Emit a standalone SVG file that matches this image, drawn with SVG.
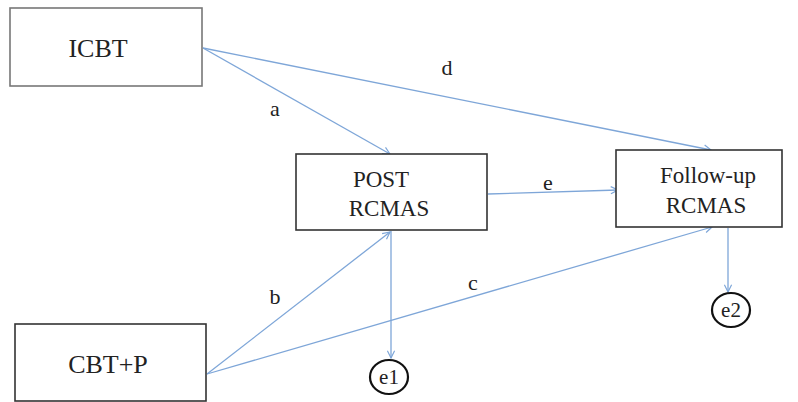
<svg xmlns="http://www.w3.org/2000/svg" width="798" height="402" viewBox="0 0 798 402">
  <style>
    .box { fill: #ffffff; stroke: #333333; stroke-width: 1.6; }
    .box.light { stroke: #777777; }
    .lbl { font-family: "Liberation Serif", "Times New Roman", serif; fill: #222222; text-anchor: middle; }
    .edge { stroke: #7ea6d8; stroke-width: 1.3; fill: none; marker-end: url(#arrow); }
    .err { fill: #ffffff; stroke: #111111; stroke-width: 2.2; }
  </style>
  <defs>
    <marker id="arrow" viewBox="0 0 10 10" refX="9" refY="5" markerWidth="9" markerHeight="9" markerUnits="userSpaceOnUse" orient="auto">
      <path d="M1,1 L9,5 L1,9" fill="none" stroke="#7ea6d8" stroke-width="1.3"/>
    </marker>
  </defs>
  <rect width="798" height="402" fill="#ffffff"/>

  <g id="connectors">
    <line class="edge" x1="203" y1="48" x2="711" y2="150"/>
    <line class="edge" x1="203" y1="48" x2="390" y2="154"/>
    <line class="edge" x1="488" y1="194" x2="618" y2="190"/>
    <line class="edge" x1="391" y1="231" x2="391" y2="358"/>
    <line class="edge" x1="207" y1="374" x2="390" y2="232"/>
    <line class="edge" x1="207" y1="374" x2="712" y2="227"/>
    <line class="edge" x1="728" y1="228" x2="728" y2="292"/>
    <text class="lbl" x="275" y="116" font-size="22">a</text>
    <text class="lbl" x="447" y="75" font-size="22">d</text>
    <text class="lbl" x="548" y="190" font-size="22">e</text>
    <text class="lbl" x="275" y="304" font-size="22">b</text>
    <text class="lbl" x="473" y="290" font-size="22">c</text>
  </g>

  <g id="icbt">
    <rect class="box light" x="10" y="8" width="192" height="78"/>
    <text class="lbl" x="98" y="57" font-size="26">ICBT</text>
  </g>

  <g id="post-rcmas">
    <rect class="box" x="296" y="154" width="191" height="76"/>
    <text class="lbl" x="381" y="187" font-size="23">POST</text>
    <text class="lbl" x="389" y="216" font-size="23">RCMAS</text>
  </g>

  <g id="followup-rcmas">
    <rect class="box" x="616" y="150" width="166" height="77"/>
    <text class="lbl" x="708" y="183" font-size="23">Follow-up</text>
    <text class="lbl" x="706" y="213" font-size="23">RCMAS</text>
  </g>

  <g id="cbtp">
    <rect class="box" x="15" y="324" width="191" height="77"/>
    <text class="lbl" x="108" y="373" font-size="26">CBT+P</text>
  </g>

  <g id="e1">
    <ellipse class="err" cx="389" cy="377" rx="19" ry="17"/>
    <text class="lbl" x="389" y="384" font-size="21">e1</text>
  </g>

  <g id="e2">
    <ellipse class="err" cx="731" cy="310" rx="19" ry="17"/>
    <text class="lbl" x="731" y="317" font-size="21">e2</text>
  </g>
</svg>
